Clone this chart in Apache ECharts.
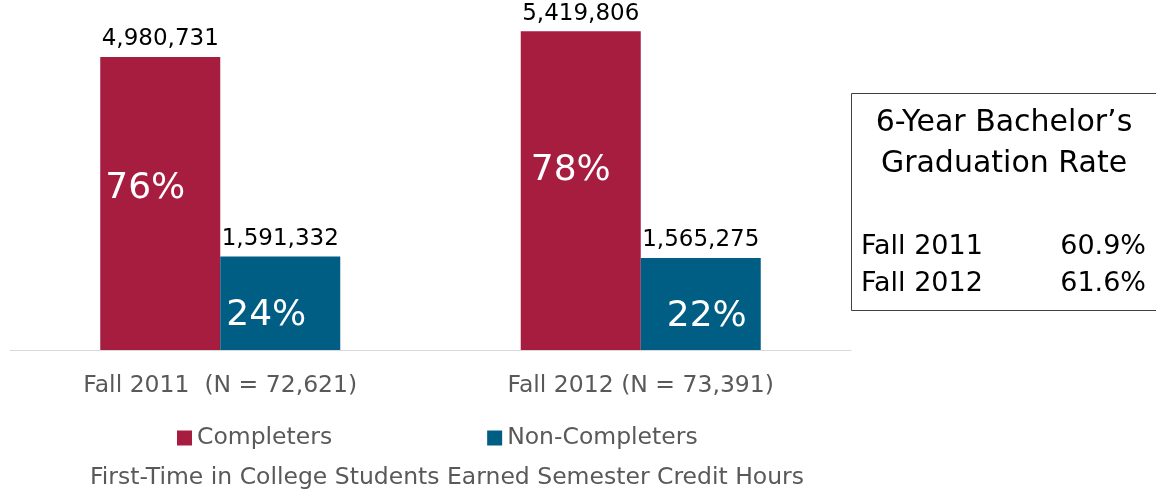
<!DOCTYPE html>
<html>
<head>
<meta charset="utf-8">
<title>Credit hours chart</title>
<script src="https://cdn.jsdelivr.net/npm/echarts@6/dist/echarts.min.js"></script>
<style>
  html, body { margin: 0; padding: 0; background: #fff; }
  #my-charts { width: 1156px; height: 493px; }
</style>
</head>
<body>
<div id="my-charts"></div>
<script>
// data
var categories = ['Fall 2011  (N = 72,621)', 'Fall 2012 (N = 73,391)']
var completers = [4980731, 5419806]
var nonCompleters = [1591332, 1565275]
var completerPct = ['76%', '78%']
var nonCompleterPct = ['24%', '22%']
var rateLabels = ['Fall 2011', 'Fall 2012']
var rateValues = ['60.9%', '61.6%']

var FONT = 'DejaVu Sans'
var RED = '#A61D40'
var BLUE = '#005E85'
var GREY = '#595959'

// where the percentage sits inside each bar (offset from bar's top-left)
var pctPosComp = [[5, 132], [10, 139]]
var pctPosNon = [[6, 59], [26, 59]]

function fmt(v) {
	return v.toString().replace(/\B(?=(\d{3})+(?!\d))/g, ',')
}

function pctData(values, pcts, pos) {
	return values.map(function(v, i) {
		return {
			value: v,
			label: { position: pos[i], formatter: pcts[i] }
		}
	})
}

var myChart = echarts.init(document.getElementById('my-charts'))

var pctLabel = {
	show: true,
	color: '#fff',
	fontFamily: FONT,
	fontSize: 36,
	align: 'left',
	verticalAlign: 'middle'
}
var valueLabel = {
	show: true,
	position: 'top',
	distance: 6,
	color: '#000',
	fontFamily: FONT,
	fontSize: 23,
	formatter: function(p) { return fmt(p.value) }
}

var option = {
	animation: false,
	textStyle: { fontFamily: FONT },
	grid: { left: 10, right: 305, top: 0, bottom: 143, containLabel: false },
	xAxis: [
		{
			type: 'category',
			data: categories,
			axisTick: { show: false },
			axisLine: { lineStyle: { color: '#d9d9d9', width: 1 } },
			axisLabel: { color: GREY, fontFamily: FONT, fontSize: 23.5, margin: 24 }
		},
		{
			type: 'category',
			data: categories,
			show: false
		}
	],
	yAxis: {
		type: 'value',
		min: 0,
		max: 5950000,
		show: false,
		splitLine: { show: false }
	},
	legend: {
		left: 172,
		top: 421,
		itemWidth: 15,
		itemHeight: 15,
		itemGap: 155,
		icon: 'rect',
		textStyle: { color: GREY, fontFamily: FONT, fontSize: 23.5 },
		data: ['Completers', 'Non-Completers']
	},
	title: {
		text: 'First-Time in College Students Earned Semester Credit Hours',
		left: 442,
		textAlign: 'center',
		top: 461,
		textStyle: { color: GREY, fontFamily: FONT, fontSize: 23.5, fontWeight: 'normal' }
	},
	series: [
		{
			name: 'Completers',
			type: 'bar',
			barWidth: 120,
			barGap: 0,
			itemStyle: { color: RED },
			label: valueLabel,
			data: completers
		},
		{
			name: 'Non-Completers',
			type: 'bar',
			barWidth: 120,
			barGap: 0,
			itemStyle: { color: BLUE },
			label: valueLabel,
			data: nonCompleters
		},
		{
			name: 'pctComp',
			type: 'bar',
			xAxisIndex: 1,
			barWidth: 120,
			barGap: 0,
			silent: true,
			itemStyle: { color: 'transparent' },
			label: pctLabel,
			data: pctData(completers, completerPct, pctPosComp)
		},
		{
			name: 'pctNon',
			type: 'bar',
			xAxisIndex: 1,
			barWidth: 120,
			barGap: 0,
			silent: true,
			itemStyle: { color: 'transparent' },
			label: pctLabel,
			data: pctData(nonCompleters, nonCompleterPct, pctPosNon)
		}
	],
	graphic: [
		{
			type: 'rect',
			shape: { x: 851.5, y: 93.5, width: 320, height: 217 },
			style: { fill: 'none', stroke: '#404040', lineWidth: 1 }
		},
		{
			type: 'text',
			x: 1004, y: 123,
			style: { text: '6-Year Bachelor\u2019s', fill: '#000', font: '30px "DejaVu Sans"', align: 'center', verticalAlign: 'middle' }
		},
		{
			type: 'text',
			x: 1004, y: 164,
			style: { text: 'Graduation Rate', fill: '#000', font: '30px "DejaVu Sans"', align: 'center', verticalAlign: 'middle' }
		}
	]
}

rateLabels.forEach(function(lbl, i) {
	var y = [247, 284][i]
	option.graphic.push({
		type: 'text', x: 861, y: y,
		style: { text: lbl, fill: '#000', font: '27px "DejaVu Sans"', align: 'left', verticalAlign: 'middle' }
	})
	option.graphic.push({
		type: 'text', x: 1146, y: y,
		style: { text: rateValues[i], fill: '#000', font: '27px "DejaVu Sans"', align: 'right', verticalAlign: 'middle' }
	})
})

myChart.setOption(option)
</script>
</body>
</html>
